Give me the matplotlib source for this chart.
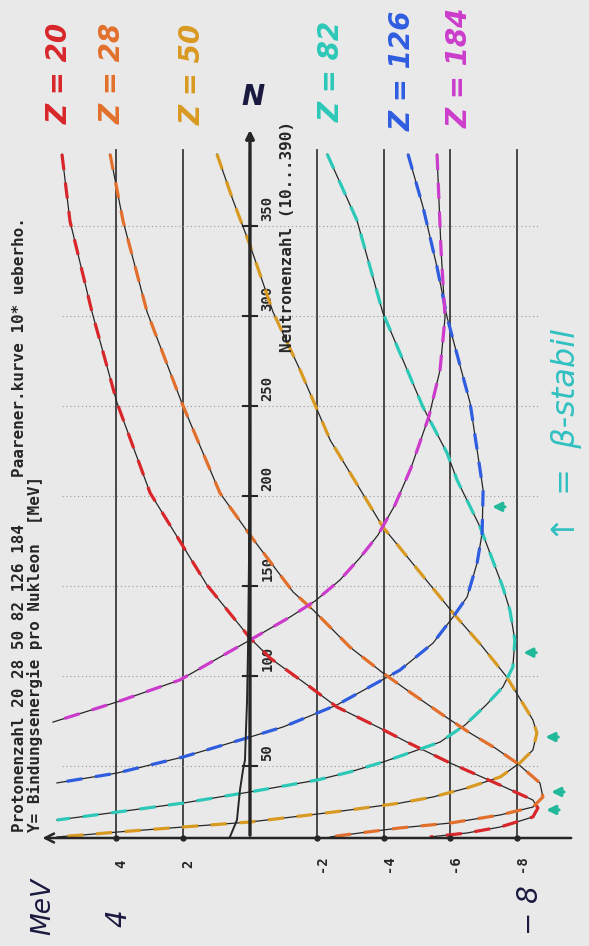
import matplotlib
matplotlib.use("Agg")
import matplotlib.pyplot as plt
import numpy as np

# Bindungsenergie pro Nukleon (MeV) gegen Neutronenzahl N, je Protonenzahl Z
z_labels = ["20", "28", "50", "82", "126", "184"]
z_colors = ["#d8262a", "#e2702c", "#d99a22", "#2cc8b8", "#2f5de0", "#cc3ccc"]

n_z20 = [390, 352.8, 302.2, 251.7, 201.7, 150.6, 121.1, 110, 93.9, 82.8, 71.1, 63.3,
         51.7, 39.4, 31.1, 26.7, 21.7, 16.1, 12.8, 10.6]
e_z20 = [5.63, 5.39, 4.73, 3.98, 2.99, 1.29, 0.0, -0.60, -1.80, -2.60, -3.89, -4.70,
         -5.99, -7.49, -8.47, -8.62, -8.47, -7.49, -6.50, -5.39]

n_z28 = [390, 352.8, 302.2, 251.7, 201.7, 178.3, 146.7, 136.7, 116.1, 101.7, 92.2, 78.3,
         68.3, 60.0, 51.7, 40.6, 32.8, 27.2, 22.8, 18.3, 15.6, 12.8, 10.6]
e_z28 = [4.19, 3.80, 3.08, 2.04, 0.90, 0.0, -1.29, -1.89, -2.99, -3.98, -4.70, -5.78,
         -6.59, -7.34, -7.99, -8.68, -8.77, -8.47, -7.49, -5.99, -4.49, -3.29, -2.40]

n_z50 = [390, 364.4, 339.4, 302.2, 270.0, 231.1, 182.8, 143.9, 135.0, 117.2, 99.4, 75.6,
         68.3, 58.9, 51.7, 43.9, 37.8, 32.8, 29.4, 25.6, 23.3, 18.9, 16.1, 13.3, 11.7, 10.6]
e_z50 = [0.99, 0.51, 0.0, -0.69, -1.50, -2.40, -3.98, -5.69, -6.08, -6.92, -7.69, -8.47,
         -8.59, -8.47, -8.08, -7.49, -6.50, -5.48, -4.49, -2.99, -2.01, 0.0, 2.01, 3.98,
         5.0, 5.78]

n_z82 = [390, 353.3, 301.7, 249.4, 223.9, 208.9, 182.8, 149.4, 136.7, 120, 105, 93.9,
         83.9, 72.8, 63.3, 57.8, 52.2, 46.7, 42.2, 35.6, 29.4, 24.4, 20]
e_z82 = [-2.31, -3.20, -3.98, -5.18, -5.90, -6.20, -6.89, -7.57, -7.78, -7.93, -7.87, -7.57,
         -7.07, -6.44, -5.69, -4.85, -3.98, -2.99, -2.01, 0.0, 2.01, 3.98, 5.78]

n_z126 = [390, 360.6, 327.2, 299.4, 251.7, 203.3, 179.4, 162.8, 143.9, 132.8, 118.3, 103.3,
          83.9, 71.7, 66.1, 55, 46.1, 40.6]
e_z126 = [-4.73, -5.18, -5.60, -5.90, -6.59, -6.98, -6.95, -6.80, -6.50, -6.08, -5.48, -4.49,
          -2.60, -0.99, 0.0, 2.01, 3.98, 5.78]

n_z184 = [390, 336.7, 299.4, 270, 244.4, 215.6, 195, 178.3, 165.6, 153.3, 141.7, 132.8,
          120, 97.8, 85.6, 74.4]
e_z184 = [-5.60, -5.72, -5.84, -5.69, -5.36, -4.82, -4.34, -3.83, -3.29, -2.69, -1.95, -1.20,
          0.0, 2.10, 3.98, 5.90]

# Paarungsenergie-Kurve (10-fach ueberhoeht)
n_pair = [10.6, 20, 36.7, 47.8, 53.3, 70, 85, 114, 164, 225, 390]
e_pair = [0.60, 0.39, 0.30, 0.21, 0.15, 0.12, 0.09, 0.06, 0.03, 0.015, 0.005]

# beta-stabile Neutronenzahlen (Pfeile) fuer Z = 20, 28, 50, 82, 126
n_beta = [25.6, 35.6, 66.1, 113, 194]

e_ticks = [4, 2, -2, -4, -6, -8]
n_ticks = [50, 100, 150, 200, 250, 300, 350]

curves_n = [n_z20, n_z28, n_z50, n_z82, n_z126, n_z184]
curves_e = [e_z20, e_z28, e_z50, e_z82, e_z126, e_z184]

bg = "#e9e9e9"
ink = "#262626"
mono = "DejaVu Sans Mono"

fig = plt.figure(figsize=(5.89, 9.46), dpi=100, facecolor=bg)
ax = fig.add_axes([0, 0, 1, 1])
ax.set_facecolor(bg)
ax.set_xlim(7.485, -10.15)
ax.set_ylim(-50, 475.6)
ax.axis("off")

# Gitter
for e in e_ticks:
    ax.plot([e, e], [10, 392], color="#3a3a3a", lw=1.3, zorder=1)
    ax.plot(e, 10, "o", ms=3.5, color=ink, zorder=4)
    ax.text(e - 0.15, -4.5, str(e), rotation=90, ha="center", va="center",
            family=mono, fontsize=10, fontweight="bold", color=ink)
for n in n_ticks:
    ax.plot([5.63, -8.68], [n, n], color="#9a9a9a", lw=0.8, ls=(0, (1, 2.5)), zorder=1)
    ax.plot([0.2, -0.2], [n, n], color=ink, lw=1.5, zorder=4)
    ax.text(-0.52, n + 2.8, str(n), rotation=90, ha="center", va="bottom",
            family=mono, fontsize=10, fontweight="bold", color=ink)

# Achsen
ax.annotate("", xy=(0, 405), xytext=(0, 10),
            arrowprops=dict(arrowstyle="-|>", lw=2.4, color=ink, mutation_scale=12), zorder=5)
ax.annotate("", xy=(6.3, 10), xytext=(-9.7, 10),
            arrowprops=dict(arrowstyle="->", lw=1.8, color=ink, mutation_scale=16), zorder=5)

# Kurven
for n_vals, e_vals, col in zip(curves_n, curves_e, z_colors):
    ax.plot(e_vals, n_vals, color=ink, lw=0.9, zorder=2)
    ax.plot(e_vals, n_vals, color=col, lw=2.3, ls=(0, (5, 4)), zorder=3)

ax.plot(e_pair, n_pair, color=ink, lw=1.4, zorder=4)

# beta-stabil Pfeile
for i, n in enumerate(n_beta):
    order = np.argsort(curves_n[i])
    e_min = np.interp(n, np.array(curves_n[i])[order], np.array(curves_e[i])[order])
    ax.annotate("", xy=(e_min - 0.2, n), xytext=(e_min - 0.75, n),
                arrowprops=dict(arrowstyle="-|>", lw=2.2, color="#22b89a",
                                mutation_scale=13), zorder=6)

# Beschriftung der Kurven
label_pos = [(5.69, 435), (4.10, 435), (1.71, 434), (-2.46, 436), (-4.58, 436), (-6.29, 438)]
for lab, col, (x, y) in zip(z_labels, z_colors, label_pos):
    ax.text(x, y, "Z = " + lab, rotation=90, ha="center", va="center", color=col,
            fontsize=20, fontstyle="italic", fontweight="bold")

ax.text(-0.1, 421.7, "N", ha="center", va="center", fontsize=20, fontweight="bold",
        fontstyle="italic", color="#1a1a40")

# Kopfzeilen (gedreht)
txt = dict(rotation=90, rotation_mode="anchor", ha="left", va="center",
           family=mono, fontsize=11.5, fontweight="bold", color=ink)
ax.text(6.89, 13.3, "Protonenzahl 20 28 50 82 126 184", **txt)
ax.text(6.89, 210.6, "Paarener.kurve 10* ueberho.", **txt)
ax.text(6.44, 13.3, "Y= Bindungsenergie pro Nukleon  [MeV]", **txt)
ax.text(-1.11, 280, "Neutronenzahl (10...390)", **txt)

ax.text(-9.49, 174.4, "\u2191  =  \u03b2-stabil", rotation=90, rotation_mode="anchor",
        ha="left", va="center", fontsize=23, fontstyle="italic", color="#30c0c0")

hand = dict(rotation=90, ha="center", va="center", color="#1a1a40", fontstyle="italic")
ax.text(6.2, -28.3, "MeV", fontsize=19, **hand)
ax.text(3.95, -34.4, "4", fontsize=20, **hand)
ax.text(-8.38, -30, "\u2212 8", fontsize=20, **hand)

fig.savefig("out.png", dpi=100, facecolor=bg)
